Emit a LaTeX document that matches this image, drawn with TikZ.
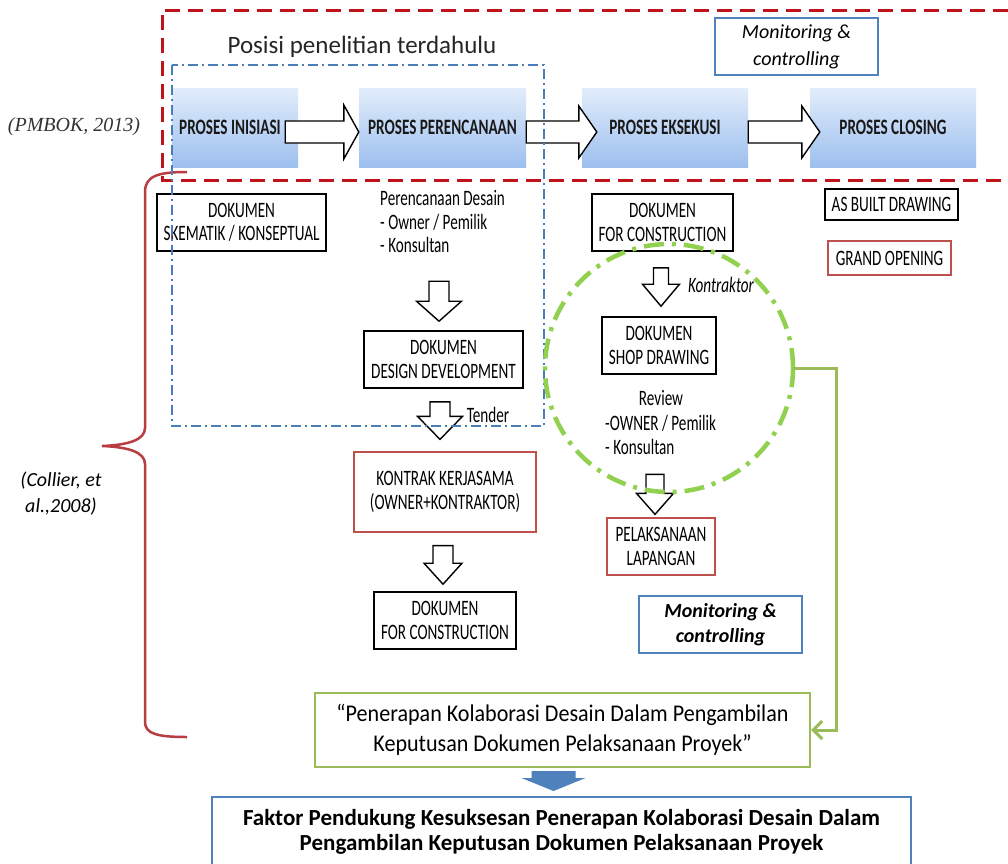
\documentclass[tikz,border=0pt]{standalone}
\usepackage{fontspec}
\setmainfont{Carlito}
\newfontfamily\cond{Carlito}[FakeStretch=0.69]
\newfontfamily\proccond{Carlito}[FakeStretch=0.69]
\newfontfamily\semicond{Carlito}[FakeStretch=0.92]
\newfontfamily\serifit{Liberation Serif}
\usetikzlibrary{arrows.meta,calc}

\definecolor{frameRed}{RGB}{192,20,28}
\definecolor{dashBlue}{RGB}{74,126,187}
\definecolor{ringGreen}{RGB}{146,208,80}
\definecolor{lineGreen}{RGB}{155,187,89}
\definecolor{boxRed}{RGB}{192,80,77}
\definecolor{boxBlue}{RGB}{79,129,189}
\definecolor{braceRed}{RGB}{185,60,65}
\definecolor{procTop}{RGB}{226,237,251}
\definecolor{procBot}{RGB}{157,191,238}
\definecolor{arrowBlue}{RGB}{79,129,189}

% small condensed text used inside the document boxes
\newcommand\txt{\fontsize{22}{23.5}\selectfont\cond}

% horizontal block arrow: start, tip, shaft half width, head half width, head length, style
\newcommand\hblock[6]{\draw[#6] let \p1=(#1), \p2=(#2) in
  (\x1,\y1+#3) -- (\x2-#5,\y1+#3) -- (\x2-#5,\y1+#4) -- (\x2,\y1)
  -- (\x2-#5,\y1-#4) -- (\x2-#5,\y1-#3) -- (\x1,\y1-#3) -- cycle;}
% downward block arrow: start, tip, shaft half width, head half width, head length, style
\newcommand\vblock[6]{\draw[#6] let \p1=(#1), \p2=(#2) in
  (\x1+#3,\y1) -- (\x1+#3,\y2+#5) -- (\x1+#4,\y2+#5) -- (\x1,\y2)
  -- (\x1-#4,\y2+#5) -- (\x1-#3,\y2+#5) -- (\x1-#3,\y1) -- cycle;}

\tikzset{
  proc/.style={minimum width=166, minimum height=79, inner sep=0,
    top color=procTop, bottom color=procBot, text=black!90,
    font=\fontsize{22}{24}\selectfont\proccond\bfseries},
  doc/.style={draw=black, line width=1.6, inner sep=0, minimum height=57,
    align=center, font=\txt},
  redbox/.style={doc, draw=boxRed, line width=1.3},
  monbox/.style={draw=boxBlue, line width=2, minimum width=163, minimum height=57,
    inner sep=0, align=center},
  plain/.style={inner sep=0, font=\txt},
  blockarrow/.style={draw=black, line width=1.4, fill=white, line join=miter},
}

\begin{document}
\begin{tikzpicture}[x=1pt,y=-1pt]
\useasboundingbox (0,0) rectangle (1008,863);
\fill[white] (0,0) rectangle (1008,863);

% project phases
\node[proc, minimum width=126] (inis) at (235,127.5) {\hspace*{-10pt}PROSES INISIASI};
\node[proc, minimum width=167] (peren) at (442.5,127.5) {PROSES PERENCANAAN};
\node[proc] (eksek) at (665,127.5) {PROSES EKSEKUSI};
\node[proc] (close) at (893,127.5) {PROSES CLOSING};

\hblock{[xshift=-13,yshift=-4.5]inis.east}{[yshift=-4.5]peren.west}{11pt}{27pt}{15pt}{blockarrow}
\hblock{[yshift=-4.5]peren.east}{[xshift=15,yshift=-4.5]eksek.west}{11pt}{26pt}{18pt}{blockarrow}
\hblock{[yshift=-4.5]eksek.east}{[xshift=10,yshift=-4.5]close.west}{11pt}{26pt}{18pt}{blockarrow}

\node[inner sep=0, text=black!85, font=\fontsize{25}{30}\selectfont] (posisi) at (362,47) {Posisi penelitian terdahulu};
\node[inner sep=0, text=black!80, font={\fontsize{20}{24}\selectfont\serifit\itshape}] (pmbok) at (74,127) {(PMBOK, 2013)};
\node[monbox, font=\fontsize{20}{27}\selectfont\itshape] (mon1) at (796.5,46.5) {Monitoring \&\\controlling};

% planning column
\node[doc, minimum width=169] (skem) at (241.5,222.5) {DOKUMEN\\SKEMATIK / KONSEPTUAL};
\node[plain, anchor=west, align=left] (pdes) at (380,222) {Perencanaan Desain\\- Owner / Pemilik\\- Konsultan};
\node[doc, minimum width=159] (dd) at (443.5,359.5) {DOKUMEN\\DESIGN DEVELOPMENT};
\node[plain] (tender) at (488,415) {Tender};
\node[redbox, minimum width=182, minimum height=80] (kontrak) at (445,492) {KONTRAK KERJASAMA\\(OWNER+KONTRAKTOR)};
\node[doc, minimum width=142] (dfc2) at (445,620.5) {DOKUMEN\\FOR CONSTRUCTION};

\vblock{[xshift=-4.5,yshift=49]dd.north}{[yshift=9]dd.north}{10pt}{22.5pt}{20pt}{blockarrow}
\vblock{[xshift=-3.5,yshift=-13]dd.south}{[yshift=12]kontrak.north}{10pt}{22.5pt}{23pt}{blockarrow}
\vblock{[xshift=-2,yshift=-13]kontrak.south}{[yshift=7]dfc2.north}{10pt}{19pt}{21pt}{blockarrow}

% execution column
\node[doc, minimum width=141] (dfc1) at (662.5,222.5) {DOKUMEN\\FOR CONSTRUCTION};
\node[doc, minimum width=133, minimum height=31] (asb) at (891.5,204.5) {AS BUILT DRAWING};
\node[redbox, line width=1.2, minimum width=123, minimum height=34] (grand) at (889.5,258) {GRAND OPENING};
\node[plain, font=\txt\itshape] (ktr) at (721,285) {Kontraktor};
\node[doc, minimum width=114] (shop) at (659,345.5) {DOKUMEN\\SHOP DRAWING};
\node[plain] (rev) at (661,398) {Review};
\node[plain, anchor=west, align=left] (revwho) at (605,435) {-OWNER / Pemilik\\- Konsultan};
\node[redbox, minimum width=108] (pel) at (661,546.5) {PELAKSANAAN\\LAPANGAN};
\node[monbox, font=\fontsize{20}{25}\selectfont\bfseries\itshape] (mon2) at (720.5,624.5) {Monitoring \&\\controlling};

\vblock{[xshift=-1.5,yshift=-16]dfc1.south}{[yshift=10]shop.north}{7.5pt}{18.5pt}{22pt}{blockarrow}
\vblock{[xshift=-6,yshift=43]pel.north}{[yshift=3]pel.north}{9pt}{18.5pt}{21pt}{blockarrow}

% literature brace
\node[inner sep=0, align=center, font=\fontsize{20}{26}\selectfont\itshape] (coll) at (61,494) {(Collier, et\\al.,2008)};
\draw[braceRed, line width=2.5]
  (187,172) .. controls (158,172) and (145,176) .. (145,192) -- (145,428)
  .. controls (145,440) and (128,445) .. (102,446)
  .. controls (128,447) and (145,452) .. (145,464) -- (145,722)
  .. controls (145,734) and (158,737) .. (187,737);

% research focus and outcome
\node[draw=lineGreen, line width=2.2, minimum width=495, minimum height=74, inner sep=0,
  align=center, font=\fontsize{24}{30}\selectfont\semicond] (pen) at (562.5,730)
  {“Penerapan Kolaborasi Desain Dalam Pengambilan\\Keputusan Dokumen Pelaksanaan Proyek”};
\node[draw=boxBlue, line width=2, minimum width=699, minimum height=70, inner sep=0,
  align=center, font=\fontsize{23}{25.5}\selectfont\bfseries] (fak) at (561.5,832)
  {Faktor Pendukung Kesuksesan Penerapan Kolaborasi Desain Dalam\\Pengambilan Keputusan Dokumen Pelaksanaan Proyek};
\vblock{[xshift=-9,yshift=-3]pen.south}{[yshift=5]fak.north}{22pt}{32pt}{13pt}{fill=arrowBlue, draw=none}

% framing outlines
\draw[frameRed, line width=3, dash pattern=on 15pt off 8pt] (1008,10) -- (162,10) -- (162,180) -- (1008,180);
\draw[dashBlue, line width=2, dash pattern=on 10pt off 4pt on 2pt off 4pt] (172,65) rectangle (544,426);
\node[circle, draw=ringGreen, line width=4.5, dash pattern=on 20pt off 8pt on 4pt off 8pt,
  minimum size=248, inner sep=0, outer sep=0] (ring) at (669,368) {};

\draw[lineGreen, line width=3, -{Straight Barb[length=9pt,width=18pt]}]
  (ring.east) -| ([xshift=25]pen.east) -- (pen.east);
\end{tikzpicture}
\end{document}
